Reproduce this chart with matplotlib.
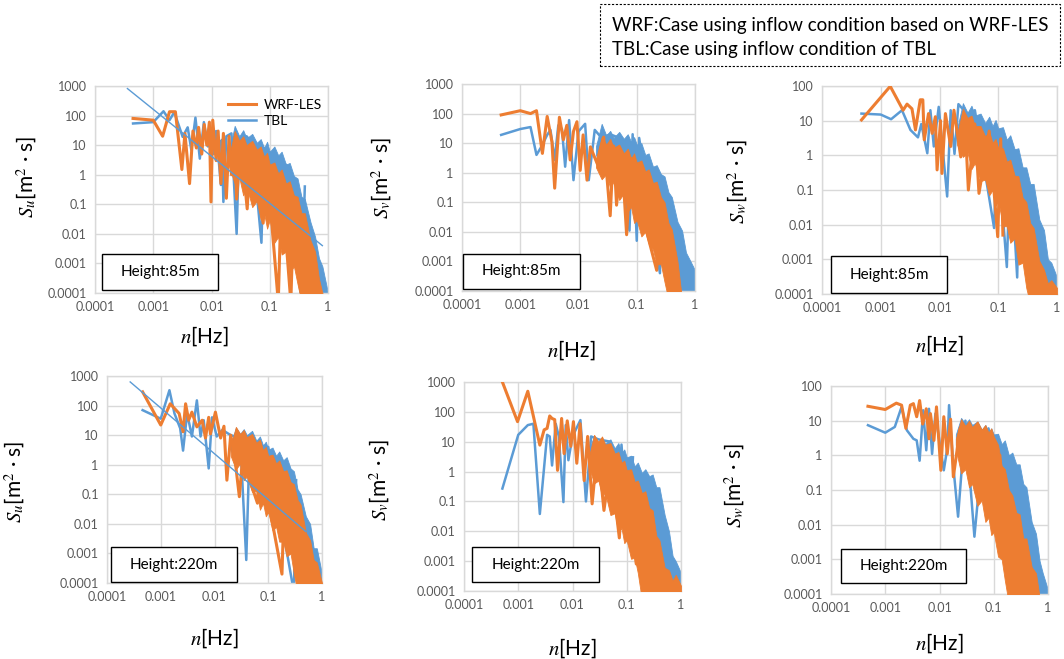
import numpy as np
import matplotlib
matplotlib.use("Agg")
import matplotlib.pyplot as plt
from matplotlib.patches import Rectangle

plt.rcParams['font.family'] = ['Lato', 'DejaVu Sans']
plt.rcParams['mathtext.fontset'] = 'stix'

ORANGE = '#ED7D31'
BLUE = '#5B9BD5'
GRID = '#D9D9D9'
TICK = '#595959'
E = 0.00005  # below the axis floor

# frequencies of the dense high-frequency part of every spectrum (upper / lower edge given per series)
band_f = [0.02, 0.025, 0.03, 0.035, 0.04, 0.05, 0.06, 0.07, 0.08, 0.09, 0.1, 0.12, 0.14, 0.16, 0.19,
          0.22, 0.26, 0.3, 0.35, 0.4, 0.5, 0.6, 0.7, 0.8, 1.0]

# ---- Su, height 85 m
u85_wrf_f = [0.00045, 0.001, 0.00145, 0.0019, 0.0024, 0.0031, 0.0035, 0.0042, 0.0048, 0.0055, 0.006, 0.0068,
             0.0075, 0.0083, 0.0092, 0.0098, 0.0105, 0.012, 0.013, 0.0145, 0.016, 0.018, 0.02, 0.022, 0.025,
             0.027, 0.032, 0.041, 0.047, 0.06, 0.077, 0.09, 0.14, 0.16, 0.23, 0.25, 0.37]
u85_wrf_s = [80, 70, 20, 135, 135, 1.5, 25, 0.5, 30, 8, 40, 5, 50, 10, 60, 0.12, 70, 3, 30, 0.5, 25, 0.16, 20,
             1, 15, 0.15, 12, 0.07, 8, 0.5, 0.023, 2, E, 0.5, E, 0.01, E]
u85_wrf_hi = [4, 30, 14, 20, 10, 14, 7, 9, 4, 5.5, 2.2, 2.6, 1.1, 1.5, 0.5, 0.6, 0.2, 0.18, 0.05, 0.05,
              0.006, 0.0025, 0.0003, 0.0001, E]
u85_wrf_lo = [2, 0.5, 0.8, 0.2, 0.4, 0.08, 0.13, 0.03, 0.05, 0.015, 0.03, 0.005, 0.008, 0.002, 0.0025,
              0.0005, 0.0008, 0.0002] + [E] * 7
u85_tbl_f = [0.00045, 0.001, 0.0015, 0.0019, 0.0023, 0.0032, 0.0039, 0.0045, 0.0053, 0.0063, 0.0074, 0.0087,
             0.0095, 0.011, 0.012, 0.0145, 0.015, 0.016, 0.018, 0.022, 0.027, 0.03, 0.04, 0.05, 0.072, 0.08,
             0.1, 0.2, 0.35, 0.4]
u85_tbl_s = [54, 60, 140, 70, 130, 19, 40, 7, 85, 3.5, 60, 9, 40, 5, 30, 0.45, 15, 0.12, 20, 25, 0.01, 15, 20,
             12, 0.005, 8, 5, 2, E, 0.4]
u85_tbl_hi = [6, 45, 20, 32, 17, 24, 12, 16, 8, 13, 6, 9, 4.5, 6, 2.2, 2.5, 0.9, 0.75, 0.18, 0.15,
              0.025, 0.008, 0.0015, 0.0008, 0.0001]
u85_tbl_lo = [3, 1, 0.8, 0.5, 0.4, 0.2, 0.15, 0.1, 0.06, 0.05, 0.03, 0.02, 0.01, 0.008, 0.005, 0.003,
              0.002, 0.001, 0.0006, 0.0003, 0.0001] + [E] * 4
u85_fit_f = [0.00036, 0.8]
u85_fit_s = [820, 0.004]

# ---- Sv, height 85 m
v85_wrf_f = [0.00047, 0.001, 0.0015, 0.0019, 0.0024, 0.0029, 0.0035, 0.0039, 0.0047, 0.0055, 0.0063, 0.0072,
             0.0082, 0.0094, 0.0107, 0.012, 0.014, 0.016, 0.021, 0.027, 0.035, 0.04, 0.045, 0.055, 0.067, 0.08,
             0.12, 0.22, 0.25]
v85_wrf_s = [90, 125, 100, 125, 4.5, 80, 11, 0.3, 75, 13, 40, 2.7, 25, 53, 1.2, 19, 0.56, 7.5, 2, 16, 0.035,
             8, 0.08, 5, 0.008, 3, 0.05, 0.0005, 0.05]
v85_wrf_hi = [3, 16, 9, 14, 7, 9, 4.5, 6.5, 3, 4.5, 2.2, 2.6, 1.1, 1.3, 0.45, 0.5, 0.15, 0.1, 0.02, 0.012,
              0.001, E, E, E, E]
v85_wrf_lo = [1.5, 0.6, 0.9, 0.3, 0.5, 0.12, 0.2, 0.05, 0.07, 0.02, 0.025, 0.007, 0.01, 0.004, 0.0025,
              0.0008, 0.0008, 0.0002] + [E] * 7
v85_tbl_f = [0.00047, 0.001, 0.0015, 0.0019, 0.0023, 0.0029, 0.0033, 0.0039, 0.0045, 0.0052, 0.0059, 0.0069,
             0.0082, 0.01, 0.013, 0.015, 0.019, 0.025, 0.035, 0.05, 0.075, 0.085, 0.1, 0.11, 0.25, 0.28]
v85_tbl_s = [19, 30, 35, 4, 7.5, 19, 28, 2.7, 40, 30, 1.6, 60, 0.56, 25, 45, 0.56, 28, 15, 20, 15, 0.011, 20,
             0.005, 15, 0.0004, 0.5]
v85_tbl_hi = [8, 45, 18, 26, 15, 24, 14, 20, 11, 16, 9, 10, 4, 4.5, 1.6, 1.8, 0.9, 0.75, 0.22, 0.15,
              0.022, 0.011, 0.002, 0.0012, 0.0005]
v85_tbl_lo = [4, 1.5, 1.2, 0.8, 0.6, 0.4, 0.3, 0.2, 0.12, 0.1, 0.05, 0.03, 0.02, 0.01, 0.006, 0.003,
              0.002, 0.001, 0.0005, 0.0002, 0.0001] + [E] * 4

# ---- Sw, height 85 m
w85_wrf_f = [0.00047, 0.00145, 0.0024, 0.0028, 0.0034, 0.0039, 0.0047, 0.0052, 0.0055, 0.0065, 0.0075, 0.0085,
             0.0091, 0.0104, 0.011, 0.0126, 0.0155, 0.0176, 0.023, 0.027, 0.031, 0.04, 0.047, 0.07, 0.098, 0.11,
             0.12]
w85_wrf_s = [10.5, 98, 20, 30, 22, 5.4, 40, 40, 2.8, 16, 4.3, 13, 0.38, 10, 0.3, 16, 1.8, 20, 0.9, 12, 0.1, 8,
             0.08, 5, 0.0045, 3, 0.005]
w85_wrf_hi = [4, 22, 12, 14, 7, 7, 3.5, 4.8, 2.3, 3, 1.6, 1.6, 0.65, 0.75, 0.26, 0.25, 0.06, 0.045, 0.011,
              0.008, 0.0009, 0.0005, 0.0002, 0.00025, 0.00015]
w85_wrf_lo = [2, 0.9, 1.2, 0.4, 0.6, 0.18, 0.2, 0.07, 0.1, 0.035, 0.05, 0.009, 0.009, 0.003, 0.004,
              0.0007, 0.0008, 0.00015] + [E] * 7
w85_tbl_f = [0.00047, 0.001, 0.0015, 0.0023, 0.0032, 0.0043, 0.0049, 0.0062, 0.007, 0.008, 0.0097, 0.0135,
             0.0155, 0.018, 0.021, 0.03, 0.04, 0.085, 0.095, 0.14, 0.16, 0.21, 0.23]
w85_tbl_s = [16, 15, 11, 20, 5.4, 3.3, 8, 1.15, 20, 1.8, 25, 0.065, 20, 1.1, 30, 15, 20, 0.008, 3, 0.0006, 1,
             0.0003, 0.5]
w85_tbl_hi = [6, 32, 17, 27, 14, 16, 8.5, 13, 7, 10.5, 6, 6.5, 2.8, 3.8, 1.5, 1.6, 0.45, 0.45, 0.15, 0.15,
              0.014, 0.007, 0.001, 0.0008, 0.0003]
w85_tbl_lo = [4, 2, 1.5, 1, 0.8, 0.5, 0.3, 0.2, 0.15, 0.1, 0.08, 0.03, 0.015, 0.01, 0.006, 0.003, 0.0015,
              0.0008, 0.0003, 0.0001] + [E] * 5

# ---- Su, height 220 m
u220_wrf_f = [0.00046, 0.001, 0.0015, 0.0022, 0.0026, 0.0029, 0.0033, 0.0038, 0.0047, 0.0059, 0.0068, 0.0078,
              0.0084, 0.0104, 0.013, 0.015, 0.017, 0.02, 0.023, 0.029, 0.035, 0.04, 0.063, 0.07, 0.18, 0.2]
u220_wrf_s = [290, 22, 115, 54, 13, 115, 32, 60, 19, 32, 8, 40, 11, 60, 8, 20, 0.3, 10, 3, 0.083, 5, 0.6,
              0.05, 2, 0.0002, 0.1]
u220_wrf_hi = [4, 19, 11, 15, 8.5, 11, 5.5, 7, 3.1, 4, 2, 2.2, 1.1, 1.4, 0.6, 0.65, 0.26, 0.22, 0.065,
               0.045, 0.005, 0.0028, 0.0006, 0.0005, 0.0001]
u220_wrf_lo = [2, 0.7, 1.1, 0.3, 0.4, 0.12, 0.13, 0.03, 0.05, 0.018, 0.025, 0.006, 0.008, 0.0025, 0.0025,
               0.0008, 0.001, 0.0002] + [E] * 7
u220_tbl_f = [0.00046, 0.001, 0.00145, 0.0018, 0.0023, 0.0026, 0.0031, 0.0038, 0.0047, 0.0055, 0.0063, 0.0078,
              0.009, 0.011, 0.014, 0.02, 0.03, 0.039, 0.045, 0.07, 0.1, 0.3, 0.33]
u220_tbl_s = [70, 36, 330, 54, 17, 3, 54, 9, 150, 9, 32, 0.75, 40, 9, 15, 10, 8, 0.0006, 5, 0.18, 4, E, 0.3]
u220_tbl_hi = [5, 18, 11, 16, 10, 14, 6.5, 9, 4.5, 6, 3.2, 3.8, 2, 2.8, 1.4, 1.8, 0.75, 0.6, 0.15, 0.1,
               0.018, 0.01, 0.0015, 0.0015, 0.0002]
u220_tbl_lo = [3, 1.5, 1.2, 0.8, 0.6, 0.4, 0.2, 0.1, 0.08, 0.05, 0.04, 0.02, 0.012, 0.008, 0.005, 0.003,
               0.002, 0.001, 0.0005, 0.0002, 0.0001] + [E] * 4
u220_fit_f = [0.00027, 0.5]
u220_fit_s = [630, 0.0055]

# ---- Sv, height 220 m
v220_wrf_f = [0.0005, 0.00097, 0.0015, 0.0025, 0.003, 0.0034, 0.0038, 0.0042, 0.0047, 0.0053, 0.0063, 0.007,
              0.008, 0.0093, 0.0104, 0.012, 0.0138, 0.0164, 0.019, 0.023, 0.029, 0.038, 0.05, 0.073, 0.085,
              0.15, 0.17, 0.21, 0.23]
v220_wrf_s = [1100, 47, 490, 7.7, 25, 28, 73, 60, 55, 1.1, 60, 4, 50, 7, 47, 1.9, 40, 0.5, 15, 0.083, 7, 0.05,
              2, 0.006, 1, 0.0008, 0.2, 0.0002, 0.05]
v220_wrf_hi = [3, 17, 10, 15, 8, 9, 4, 4.5, 2, 2.3, 1.1, 1.2, 0.45, 0.5, 0.19, 0.22, 0.06, 0.05, 0.007,
               0.005, 0.0006, 0.0005, 0.00022, 0.00035, 0.00015]
v220_wrf_lo = [1.5, 0.4, 0.5, 0.15, 0.2, 0.035, 0.04, 0.009, 0.013, 0.004, 0.005, 0.0012, 0.0013,
               0.0004] + [E] * 11
v220_tbl_f = [0.00051, 0.001, 0.0015, 0.0019, 0.0025, 0.0034, 0.0038, 0.0042, 0.0049, 0.0056, 0.0068, 0.0075,
              0.0084, 0.01, 0.014, 0.0177, 0.022, 0.03, 0.05, 0.068, 0.08, 0.11, 0.13]
v220_tbl_s = [0.27, 17, 36, 40, 0.038, 17, 15, 1.6, 40, 15, 0.095, 36, 2.4, 15, 53, 0.1, 15, 12, 10, 0.023, 8,
              0.0037, 3]
v220_tbl_hi = [5, 16, 9, 14, 8.5, 12, 6, 9, 4.2, 5.5, 3, 3.4, 1.5, 2, 0.9, 1.2, 0.7, 0.8, 0.3, 0.3,
               0.035, 0.01, 0.0015, 0.001, 0.0004]
v220_tbl_lo = [3, 1.2, 1, 0.7, 0.5, 0.3, 0.2, 0.1, 0.06, 0.04, 0.03, 0.015, 0.008, 0.005, 0.003, 0.0015,
               0.001, 0.0005, 0.0002, 0.0001] + [E] * 5

# ---- Sw, height 220 m
w220_wrf_f = [0.00048, 0.001, 0.0016, 0.002, 0.0024, 0.0029, 0.0033, 0.0038, 0.0043, 0.0049, 0.0057, 0.0064,
              0.0068, 0.0079, 0.0088, 0.0106, 0.012, 0.0139, 0.016, 0.018, 0.024, 0.032, 0.05, 0.076, 0.09,
              0.115, 0.13, 0.15, 0.24, 0.34]
w220_wrf_s = [26, 21, 32, 28, 6, 28, 31, 13, 38, 8, 22, 3, 16, 2.7, 25, 0.37, 13, 1.1, 11, 0.24, 6, 0.47, 8,
              0.027, 4, 0.007, 1, 0.0012, 0.0002, E]
w220_wrf_hi = [3, 11, 7, 10, 6.5, 9.5, 5.5, 7.5, 4.5, 6, 3.5, 2, 0.5, 0.4, 0.1, 0.07, 0.022, 0.02, 0.004,
               0.004, 0.0006, 0.0004, 0.00008, E, E]
w220_wrf_lo = [1.5, 0.3, 0.4, 0.12, 0.15, 0.035, 0.05, 0.012, 0.016, 0.005, 0.006, 0.0012, 0.001,
               0.00025] + [E] * 11
w220_tbl_f = [0.00048, 0.001, 0.0015, 0.002, 0.0025, 0.0033, 0.0038, 0.0043, 0.005, 0.0057, 0.0064, 0.0073,
              0.0084, 0.0097, 0.012, 0.014, 0.015, 0.018, 0.022, 0.03, 0.044, 0.061, 0.08, 0.19, 0.2, 0.24]
w220_tbl_s = [7.4, 4.5, 6.6, 25, 5.3, 3, 2.7, 0.7, 20, 1.4, 22, 1.1, 16, 3.4, 0.37, 1.7, 28, 0.47, 0.017, 10,
              0.0045, 1.1, 6, 0.0012, E, 0.5]
w220_tbl_hi = [4, 12, 8, 11, 7.5, 9.5, 5.5, 7.5, 4.5, 6, 4, 4.2, 2.1, 2.7, 1, 1.2, 0.55, 0.55, 0.15, 0.12,
               0.012, 0.0055, 0.0009, 0.0004, 0.00013]
w220_tbl_lo = [2, 1, 0.8, 0.5, 0.4, 0.2, 0.15, 0.1, 0.06, 0.04, 0.03, 0.015, 0.008, 0.005, 0.003, 0.0015,
               0.001, 0.0005, 0.0002, 0.0001] + [E] * 5

x_ticks = [0.0001, 0.001, 0.01, 0.1, 1]
x_labels = ['0.0001', '0.001', '0.01', '0.1', '1']
y_ticks = [0.0001, 0.001, 0.01, 0.1, 1, 10, 100, 1000]
y_labels = ['0.0001', '0.001', '0.01', '0.1', '1', '10', '100', '1000']


fig = plt.figure(figsize=(10.64, 6.59), dpi=100)
W, H = 1064.0, 659.0


def px_axes(x0, y0, x1, y1):
    return fig.add_axes([x0 / W, 1 - y1 / H, (x1 - x0) / W, (y1 - y0) / H])


def draw_panel(ax, comp, height, ymax, wrf, tbl, fit, box, ylab_pos, xlab_pos):
    wf, ws, whi, wlo = wrf
    tf, ts, thi, tlo = tbl
    ax.fill_between(band_f, tlo, thi, color=BLUE, lw=0.6, zorder=2)
    ax.plot(tf, ts, color=BLUE, lw=1.8, zorder=2, label='TBL')
    ax.fill_between(band_f, wlo, whi, color=ORANGE, lw=0.6, zorder=3)
    ax.plot(wf, ws, color=ORANGE, lw=2.2, zorder=3, label='WRF-LES')
    if fit is not None:
        ax.plot(fit[0], fit[1], color=BLUE, lw=1.0, zorder=4)
    ax.set_xscale('log')
    ax.set_yscale('log')
    ax.set_xlim(0.0001, 1)
    ax.set_ylim(0.0001, ymax)
    ax.set_xticks(x_ticks)
    ax.set_xticklabels(x_labels)
    yt = [t for t in y_ticks if t <= ymax]
    ax.set_yticks(yt)
    ax.set_yticklabels(y_labels[:len(yt)])
    ax.minorticks_off()
    ax.tick_params(length=0, labelsize=9, labelcolor=TICK, pad=6)
    ax.grid(True, color=GRID, lw=1.0, zorder=0)
    ax.set_axisbelow(True)
    for s in ax.spines.values():
        s.set_color(GRID)
        s.set_linewidth(1.0)
    ax.text(ylab_pos[0], ylab_pos[1], r'$S_{%s}$[m$^2$ · s]' % comp, transform=ax.transAxes,
            rotation=90, ha='center', va='center', fontsize=15)
    ax.text(xlab_pos[0], xlab_pos[1], r'$n$[Hz]', transform=ax.transAxes,
            ha='center', va='center', fontsize=15)
    # height label box, given in pixels
    bx0, by0, bx1, by1 = box
    fig.patches.append(Rectangle((bx0 / W, 1 - by1 / H), (bx1 - bx0) / W, (by1 - by0) / H,
                                 transform=fig.transFigure, fill=True, facecolor='white',
                                 edgecolor='black', lw=1.0, zorder=5))
    fig.text((bx0 + bx1) / 2 / W, 1 - (by0 + by1) / 2 / H, 'Height:%s' % height,
             ha='center', va='center', fontsize=11, zorder=6)


ax1 = px_axes(95, 86, 328, 293)
draw_panel(ax1, 'u', '85m', 1000,
           (u85_wrf_f, u85_wrf_s, u85_wrf_hi, u85_wrf_lo),
           (u85_tbl_f, u85_tbl_s, u85_tbl_hi, u85_tbl_lo),
           (u85_fit_f, u85_fit_s), (102, 254, 218, 290), (-0.29, 0.56), (0.47, -0.21))
handles, labels = ax1.get_legend_handles_labels()
ax1.legend([handles[1], handles[0]], ['WRF-LES', 'TBL'],
           loc='upper right', bbox_to_anchor=(1.03, 1.0), frameon=False, fontsize=10,
           handlelength=2.0, handletextpad=0.6, labelspacing=0.3)

ax2 = px_axes(462, 84, 695, 291)
draw_panel(ax2, 'v', '85m', 1000,
           (v85_wrf_f, v85_wrf_s, v85_wrf_hi, v85_wrf_lo),
           (v85_tbl_f, v85_tbl_s, v85_tbl_hi, v85_tbl_lo),
           None, (463, 254, 580, 289), (-0.343, 0.546), (0.47, -0.285))

ax3 = px_axes(822, 86, 1057, 294)
draw_panel(ax3, 'w', '85m', 100,
           (w85_wrf_f, w85_wrf_s, w85_wrf_hi, w85_wrf_lo),
           (w85_tbl_f, w85_tbl_s, w85_tbl_hi, w85_tbl_lo),
           None, (831, 256, 947, 293), (-0.357, 0.54), (0.50, -0.245))

ax4 = px_axes(107, 376, 322, 583)
draw_panel(ax4, 'u', '220m', 1000,
           (u220_wrf_f, u220_wrf_s, u220_wrf_hi, u220_wrf_lo),
           (u220_tbl_f, u220_tbl_s, u220_tbl_hi, u220_tbl_lo),
           (u220_fit_f, u220_fit_s), (111, 547, 237, 582), (-0.43, 0.49), (0.50, -0.266))

ax5 = px_axes(464, 382, 681, 591)
draw_panel(ax5, 'v', '220m', 1000,
           (v220_wrf_f, v220_wrf_s, v220_wrf_hi, v220_wrf_lo),
           (v220_tbl_f, v220_tbl_s, v220_tbl_hi, v220_tbl_lo),
           None, (472, 547, 599, 582), (-0.387, 0.53), (0.50, -0.273))

ax6 = px_axes(831, 386, 1048, 594)
draw_panel(ax6, 'w', '220m', 100,
           (w220_wrf_f, w220_wrf_s, w220_wrf_hi, w220_wrf_lo),
           (w220_tbl_f, w220_tbl_s, w220_tbl_hi, w220_tbl_lo),
           None, (841, 549, 966, 583), (-0.442, 0.52), (0.50, -0.236))

# case description box at the top right
fig.patches.append(Rectangle((600 / W, 1 - 66 / H), 460 / W, 62 / H, transform=fig.transFigure,
                             fill=False, edgecolor='black', lw=0.8, linestyle=(0, (2, 1.5))))
fig.text(612 / W, 1 - 25 / H, 'WRF:Case using inflow condition based on WRF-LES',
         ha='left', va='center', fontsize=13.5)
fig.text(612 / W, 1 - 50 / H, 'TBL:Case using inflow condition of TBL',
         ha='left', va='center', fontsize=13.5)

fig.savefig('out.png', dpi=100)
